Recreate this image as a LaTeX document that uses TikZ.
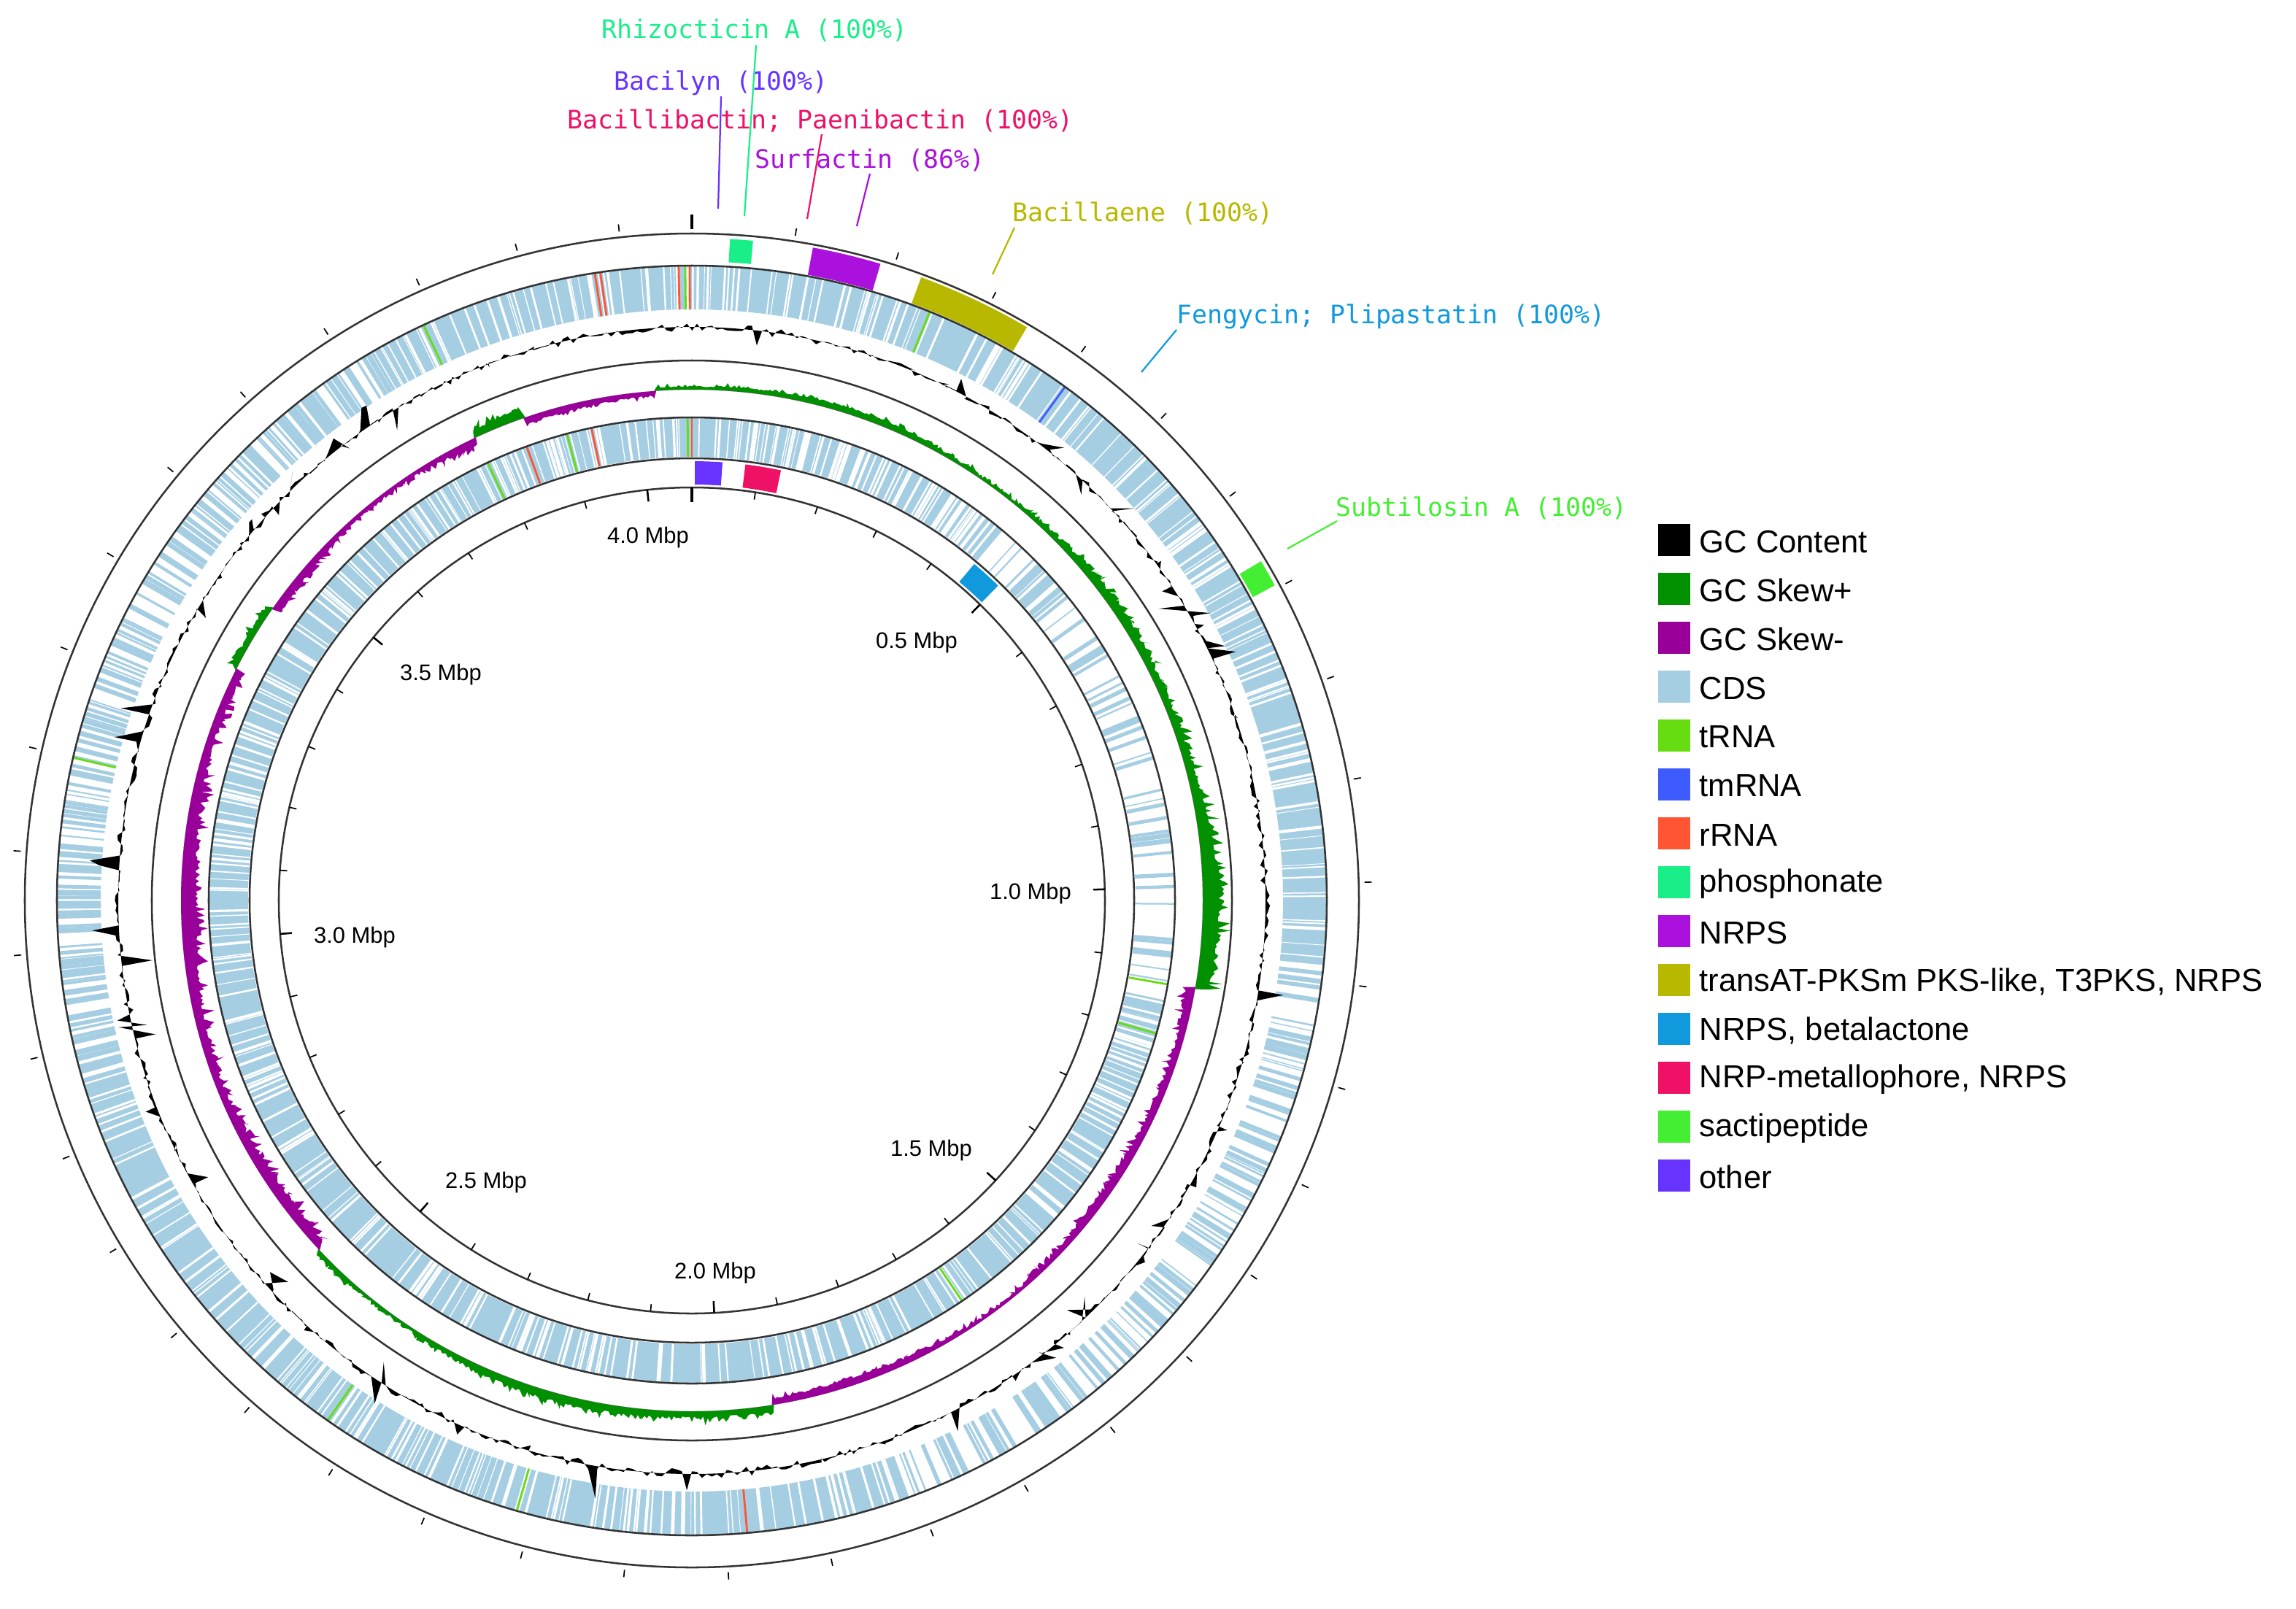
\documentclass[tikz,border=0pt]{standalone}
\usepackage{fontspec}
\setmainfont{Liberation Sans}
\newfontfamily\monof{DejaVu Sans Mono}
\definecolor{cds}{HTML}{A6CEE3}
\definecolor{gcplus}{HTML}{009000}
\definecolor{gcminus}{HTML}{990099}
\definecolor{trna}{HTML}{66DD11}
\definecolor{tmrna}{HTML}{3E5BFF}
\definecolor{rrna}{HTML}{FF5533}
\definecolor{phos}{HTML}{1AEE88}
\definecolor{nrps}{HTML}{AA11DD}
\definecolor{trans}{HTML}{B8B800}
\definecolor{beta}{HTML}{1199DD}
\definecolor{nrpm}{HTML}{EE1166}
\definecolor{sacti}{HTML}{44EE33}
\definecolor{other}{HTML}{6633FF}
\definecolor{ringc}{HTML}{333333}
\newcommand\bandseg[5]{% rin rout a1 a2 density(white gaps per deg)
  \fill[cds] ({#3-90}:#1) arc[start angle={#3-90}, end angle={#4-90}, radius=#1] -- ({#4-90}:#2) arc[start angle={#4-90}, end angle={#3-90}, radius=#2] -- cycle;
  \pgfmathtruncatemacro\nn{(#4-#3)*#5+1}
  \foreach \k in {1,...,\nn}{\pgfmathsetmacro\aa{#3+(#4-#3)*rnd-90}\pgfmathsetmacro\ww{0.3+0.9*rnd}
    \draw[white,line width=\ww pt] (\aa:#1) -- (\aa:#2);}
}
\newcommand\sparseseg[5]{% rin rout a1 a2 density(lines per deg)
  \pgfmathtruncatemacro\nn{(#4-#3)*#5+1}
  \foreach \k in {1,...,\nn}{\pgfmathsetmacro\aa{#3+(#4-#3)*rnd-90}\pgfmathsetmacro\ww{0.5+1.6*rnd}
    \draw[cds,line width=\ww pt] (\aa:#1) -- (\aa:#2);}
}
\newcommand\feat[4]{\draw[#4,line width=1pt] ({#3-90}:#1) -- ({#3-90}:#2);}
\newcommand\bgc[5]{\fill[#5] ({#3-90}:#1) arc[start angle={#3-90}, end angle={#4-90}, radius=#1] -- ({#4-90}:#2) arc[start angle={#4-90}, end angle={#3-90}, radius=#2] -- cycle;}
\begin{document}
\begin{tikzpicture}[x=0.25mm,y=-0.25mm,
  ring/.style={draw=ringc,line width=0.9pt},
  lbl/.style={font=\monof\fontsize{12.4}{14}\selectfont,inner sep=0pt},
  tick/.style={font=\fontsize{11}{13}\selectfont,inner sep=0pt},
  leg/.style={font=\fontsize{15.5}{18}\selectfont,anchor=west,inner sep=0pt},
  declare function={
    skewenv(\t)=(\t<100)*(5+14*\t/100)-(\t>=100)*(\t<171)*(14-6*(\t-100)/71)+(\t>=171)*(\t<227)*10-(\t>=227)*(\t<297)*16+(\t>=297)*(\t<305)*10-(\t>=305)*(\t<335)*12+(\t>=335)*(\t<341)*12-(\t>=341)*(\t<356)*7+(\t>=356)*5;
    skew(\t)=skewenv(\t)*(0.35+0.65*rnd*rnd+0.25*sin(7*\t)*sin(3*\t));
    gcc(\t)=3.2*rand+(rnd>0.93)*rand*22;
  }]
\useasboundingbox (0,0) rectangle (1573,1102);
\pgfmathsetseed{11}
\begin{scope}[shift={(474,617)}]
% outer CDS ring
\bandseg{405}{435}{0}{95}{1.6}
\sparseseg{405}{435}{95}{160}{2.6}
\bandseg{405}{435}{160}{255}{1.6}
\sparseseg{405}{435}{255}{330}{3.2}
\bandseg{405}{435}{330}{360}{1.6}
% inner CDS ring
\bandseg{304}{331}{0}{40}{2.2}
\sparseseg{304}{331}{40}{105}{1.1}
\bandseg{304}{331}{105}{360}{1.3}
% RNA features
\feat{405}{435}{-8.8}{rrna}\feat{405}{435}{-8.3}{rrna}\feat{405}{435}{-1.2}{rrna}\feat{405}{435}{-0.6}{trna}\feat{405}{435}{-0.2}{rrna}
\feat{405}{435}{-25}{trna}\feat{405}{435}{22}{trna}\feat{405}{435}{36}{tmrna}\feat{405}{435}{283}{trna}\feat{405}{435}{215}{trna}\feat{405}{435}{196}{trna}\feat{405}{435}{175}{rrna}
\feat{304}{331}{-20}{rrna}\feat{304}{331}{-15}{trna}\feat{304}{331}{-12}{rrna}\feat{304}{331}{-0.5}{trna}\feat{304}{331}{0}{rrna}\feat{304}{331}{-25}{trna}
\feat{304}{331}{100}{trna}\feat{304}{331}{106}{trna}\feat{304}{331}{146}{trna}
% GC content
\fill[black,even odd rule] plot[domain=0:360,samples=721,variable=\t] ({\t-90}:{393+gcc(\t)}) -- cycle (0,0) circle[radius=393];
% GC skew
\fill[gcplus,even odd rule] plot[domain=0:360,samples=1441,variable=\t] ({\t-90}:{350+max(skew(\t),0)}) -- cycle (0,0) circle[radius=350];
\fill[gcminus,even odd rule] plot[domain=0:360,samples=1441,variable=\t] ({\t-90}:{350+min(skew(\t),0)}) -- cycle (0,0) circle[radius=350];
% BGCs
\bgc{438}{454}{3.3}{5.3}{phos}
\bgc{436}{455}{10.5}{16.5}{nrps}
\bgc{436}{455}{20.2}{30.3}{trans}
\bgc{437}{454}{59.2}{61.6}{sacti}
\bgc{285}{301}{0.4}{4}{other}
\bgc{285}{301}{7}{11.7}{nrpm}
\bgc{285}{301}{40}{44.2}{beta}
% circles
\foreach \r in {457,435,370,331,303,283} \draw[ring] (0,0) circle[radius=\r];
% ticks
\foreach \i in {1,...,40}{\draw[black,line width=0.6pt] ({\i*8.845-90}:461) -- ({\i*8.845-90}:466);
  \draw[black,line width=0.6pt] ({\i*8.845-90}:283) -- ({\i*8.845-90}:278);}
\draw[black,line width=1.6pt] (-90:460) -- (-90:470);
\draw[black,line width=1.6pt] (-90:283) -- (-90:273);
\foreach \i in {5,10,...,40}\draw[black,line width=0.9pt] ({\i*8.845-90}:283) -- ({\i*8.845-90}:275);
\end{scope}
% tick labels
\node[tick] (t40) at (444,368) {4.0 Mbp};
\node[tick] (t05) at (628,440) {0.5 Mbp};
\node[tick] (t10) at (706,612) {1.0 Mbp};
\node[tick] (t15) at (638,788) {1.5 Mbp};
\node[tick] (t20) at (490,872) {2.0 Mbp};
\node[tick] (t25) at (333,810) {2.5 Mbp};
\node[tick] (t30) at (243,642) {3.0 Mbp};
\node[tick] (t35) at (302,462) {3.5 Mbp};
% BGC labels
\node[lbl,text=phos] (lrhi) at (517,21) {Rhizocticin A (100\%)};
\node[lbl,text=other] (lbac) at (494,57) {Bacilyn (100\%)};
\node[lbl,text=nrpm] (lbab) at (562,83) {Bacillibactin; Paenibactin (100\%)};
\node[lbl,text=nrps] (lsur) at (596,110) {Surfactin (86\%)};
\node[lbl,text=trans] (lbae) at (783,146) {Bacillaene (100\%)};
\node[lbl,text=beta] (lfen) at (953,217) {Fengycin; Plipastatin (100\%)};
\node[lbl,text=sacti] (lsub) at (1015,348) {Subtilosin A (100\%)};
\coordinate (crhi) at (510,148); \coordinate (crhi2) at (518,31);
\coordinate (cbac) at (492,143); \coordinate (cbac2) at (494,66);
\coordinate (cbab) at (553,150); \coordinate (cbab2) at (563,92);
\coordinate (csur) at (587,155); \coordinate (csur2) at (596,119);
\coordinate (cbae) at (680,188); \coordinate (cbae2) at (695,156);
\coordinate (cfen) at (782,255); \coordinate (cfen2) at (806,226);
\coordinate (csub) at (882,376); \coordinate (csub2) at (916,357);
\draw[phos,line width=0.8pt] (crhi) -- (crhi2);
\draw[other,line width=0.8pt] (cbac) -- (cbac2);
\draw[nrpm,line width=0.8pt] (cbab) -- (cbab2);
\draw[nrps,line width=0.8pt] (csur) -- (csur2);
\draw[trans,line width=0.8pt] (cbae) -- (cbae2);
\draw[beta,line width=0.8pt] (cfen) -- (cfen2);
\draw[sacti,line width=0.8pt] (csub) -- (csub2);
% legend
\foreach \c/\t [count=\i from 0] in {black/GC Content,gcplus/GC Skew+,gcminus/GC Skew-,cds/CDS,trna/tRNA,tmrna/tmRNA,rrna/rRNA,phos/phosphonate,nrps/NRPS,trans/{transAT-PKSm PKS-like, T3PKS, NRPS},beta/{NRPS, betalactone},nrpm/{NRP-metallophore, NRPS},sacti/sactipeptide,other/other}{
  \fill[\c] (1136,{359+33.5*\i}) rectangle (1158,{381+33.5*\i});
  \node[leg] (leg\i) at (1164,{371+33.5*\i}) {\t};
}
\end{tikzpicture}
\end{document}
